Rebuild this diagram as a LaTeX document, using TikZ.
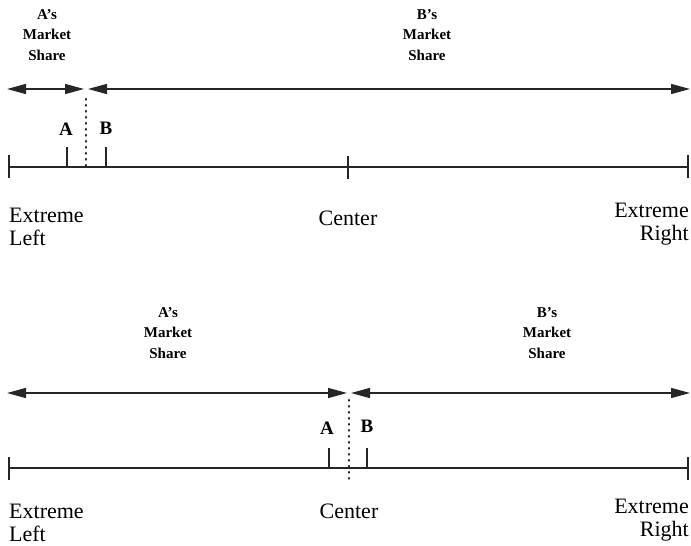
\documentclass[tikz,border=0pt]{standalone}
\usepackage{fontspec}
\setmainfont{Liberation Serif}
\usetikzlibrary{arrows.meta}
\begin{document}
\begin{tikzpicture}[x=1pt,y=-1pt,
  axisline/.style={line width=1.6pt, black!85},
  shareline/.style={line width=1.5pt, black!85, {Triangle[length=19pt,width=10pt]}-{Triangle[length=19pt,width=10pt]}},
  tickline/.style={line width=1.5pt, black!85},
  dotline/.style={line width=2.6pt, black!85, line cap=round, dash pattern=on 0.6pt off 5.4pt},
  sharelbl/.style={align=center, font=\fontsize{15}{20.5}\selectfont\bfseries, inner sep=0pt},
  poslbl/.style={font=\fontsize{22}{23}\selectfont, inner sep=0pt},
  letter/.style={font=\fontsize{19}{20}\selectfont\bfseries, inner sep=0pt}]
\useasboundingbox (0,0) rectangle (691,546);
% ---------- top panel ----------
\coordinate (tL) at (9,167); \coordinate (tC) at (348,167); \coordinate (tR) at (688,167);
\coordinate (tL1) at (9,155); \coordinate (tL2) at (9,178);
\coordinate (tC1) at (348,156); \coordinate (tC2) at (348,179);
\coordinate (tR1) at (688,155); \coordinate (tR2) at (688,178);
\draw[axisline] (tL) -- (tR);
\draw[tickline] (tL1) -- (tL2); \draw[tickline] (tC1) -- (tC2); \draw[tickline] (tR1) -- (tR2);
\coordinate (tA1) at (67,147); \coordinate (tA2) at (67,167);
\coordinate (tB1) at (106,147); \coordinate (tB2) at (106,167);
\draw[tickline] (tA1) -- (tA2); \draw[tickline] (tB1) -- (tB2);
\coordinate (tD1) at (86,99); \coordinate (tD2) at (86,166);
\draw[dotline] (tD1) -- (tD2);
\coordinate (taL) at (7,89); \coordinate (taR) at (690,89);
\coordinate (taM1) at (84,89); \coordinate (taM2) at (88,89);
\draw[shareline] (taL) -- (taM1);
\draw[shareline] (taM2) -- (taR);
\node[letter] (tAl) at (66,129) {A};
\node[letter] (tBl) at (106,128) {B};
\node[sharelbl] (tAs) at (47,35) {A's\\Market\\Share};
\node[sharelbl] (tBs) at (427,35) {B's\\Market\\Share};
\node[poslbl, anchor=west, align=left] (tEL) at (9,227) {Extreme\\Left};
\node[poslbl] (tCe) at (348,218) {Center};
\node[poslbl, anchor=east, align=right] (tER) at (689,224) {Extreme\\Right};
% ---------- bottom panel ----------
\coordinate (bL) at (9,468); \coordinate (bR) at (688,468);
\coordinate (bL1) at (9,457); \coordinate (bL2) at (9,480);
\coordinate (bR1) at (688,457); \coordinate (bR2) at (688,480);
\draw[axisline] (bL) -- (bR);
\draw[tickline] (bL1) -- (bL2); \draw[tickline] (bR1) -- (bR2);
\coordinate (bA1) at (329,448); \coordinate (bA2) at (329,468);
\coordinate (bB1) at (367,448); \coordinate (bB2) at (367,468);
\draw[tickline] (bA1) -- (bA2); \draw[tickline] (bB1) -- (bB2);
\coordinate (bD1) at (349,400); \coordinate (bD2) at (349,481);
\draw[dotline] (bD1) -- (bD2);
\coordinate (baL) at (7,393); \coordinate (baR) at (690,393);
\coordinate (baM1) at (347,393); \coordinate (baM2) at (351,393);
\draw[shareline] (baL) -- (baM1);
\draw[shareline] (baM2) -- (baR);
\node[letter] (bAl) at (327,428) {A};
\node[letter] (bBl) at (367,426) {B};
\node[sharelbl] (bAs) at (168,333) {A's\\Market\\Share};
\node[sharelbl] (bBs) at (547,333) {B's\\Market\\Share};
\node[poslbl, anchor=west, align=left] (bEL) at (9,523) {Extreme\\Left};
\node[poslbl] (bCe) at (349,511) {Center};
\node[poslbl, anchor=east, align=right] (bER) at (689,520) {Extreme\\Right};
\end{tikzpicture}
\end{document}
